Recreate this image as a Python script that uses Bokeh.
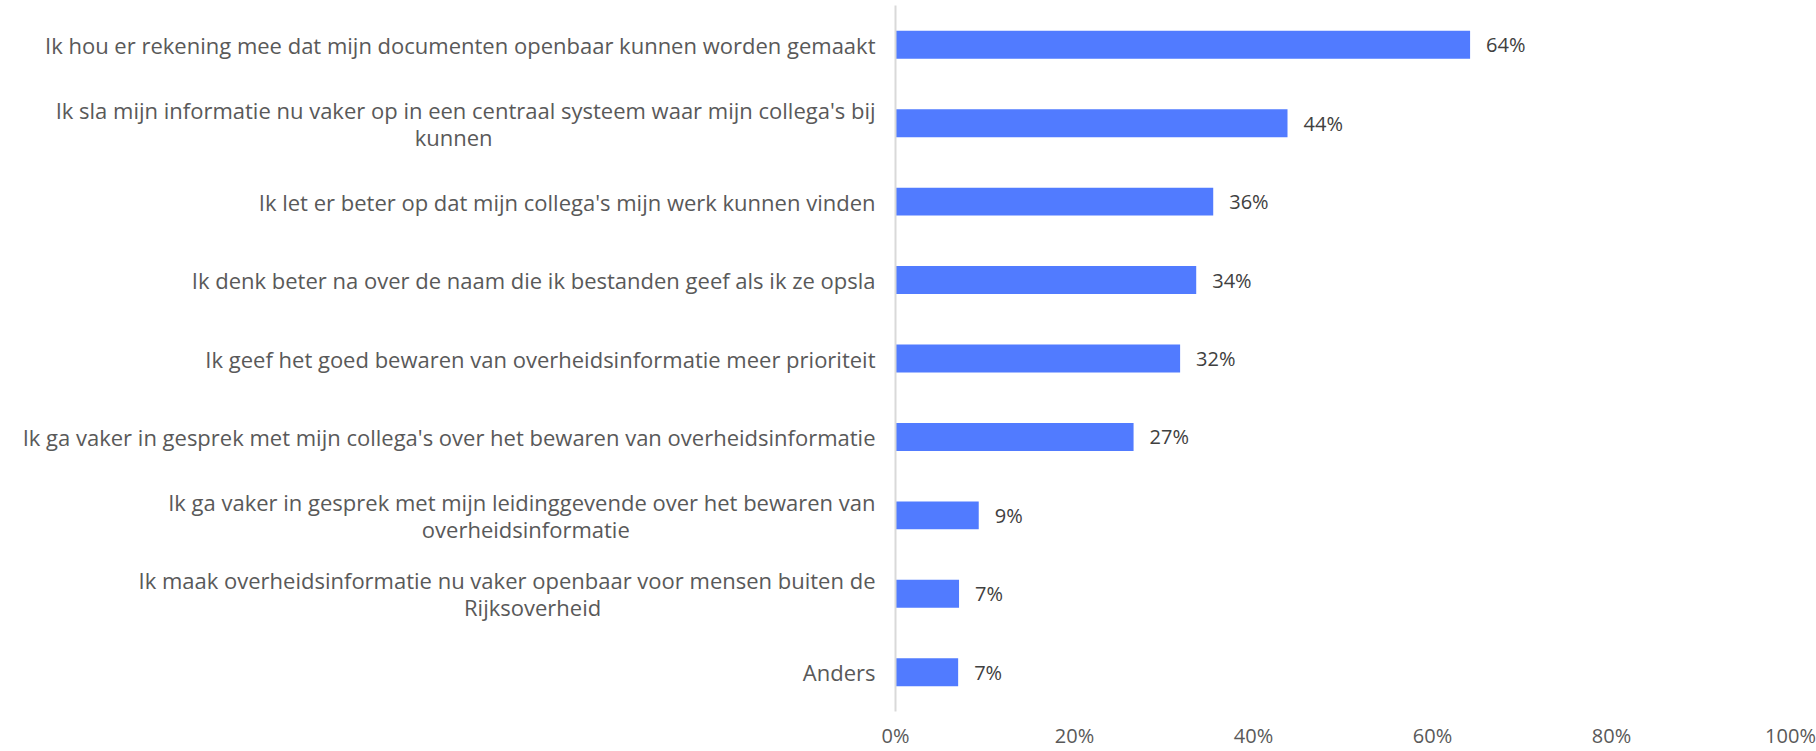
from bokeh.plotting import figure
from bokeh.models import FactorRange, Range1d, ColumnDataSource, NumeralTickFormatter, FixedTicker
from bokeh.embed import file_html
from bokeh.resources import INLINE
from bokeh.core.properties import value

categories = [
    "Ik hou er rekening mee dat mijn documenten openbaar kunnen worden gemaakt",
    "Ik sla mijn informatie nu vaker op in een centraal systeem waar mijn collega's bij\nkunnen",
    "Ik let er beter op dat mijn collega's mijn werk kunnen vinden",
    "Ik denk beter na over de naam die ik bestanden geef als ik ze opsla",
    "Ik geef het goed bewaren van overheidsinformatie meer prioriteit",
    "Ik ga vaker in gesprek met mijn collega's over het bewaren van overheidsinformatie",
    "Ik ga vaker in gesprek met mijn leidinggevende over het bewaren van\noverheidsinformatie",
    "Ik maak overheidsinformatie nu vaker openbaar voor mensen buiten de\nRijksoverheid",
    "Anders",
]
values = [0.642, 0.438, 0.355, 0.336, 0.318, 0.266, 0.093, 0.071, 0.070]
value_labels = ["64%", "44%", "36%", "34%", "32%", "27%", "9%", "7%", "7%"]
x_ticks = [0, 0.2, 0.4, 0.6, 0.8, 1.0]

FONT = "Open Sans"
GRAY = "#595959"


def center_lines(label, px_per_char=10.1, nbsp_px=5.7):
    # pad shorter lines so that, right-aligned, they appear centred under the longest one
    lines = label.split("\n")
    if len(lines) == 1:
        return label
    longest = max(len(l) for l in lines)
    out = []
    for l in lines:
        n = round((longest - len(l)) * px_per_char / 2 / nbsp_px)
        out.append(l + "\u00a0" * n)
    return "\n".join(out)


factors = [center_lines(c) for c in categories]
src = ColumnDataSource(dict(cat=factors, val=values, lab=value_labels))

p = figure(
    width=1816, height=751,
    y_range=FactorRange(factors=list(reversed(factors)), range_padding=0.0),
    x_range=Range1d(0, 1.0),
    output_backend="svg", toolbar_location=None,
    min_border_left=895, min_border_right=26, min_border_top=5, min_border_bottom=0,
)
p.outline_line_color = None
p.background_fill_color = "white"
p.border_fill_color = "white"

p.hbar(y="cat", right="val", left=0, height=0.356, source=src,
       fill_color="#517BFF", line_color=None)

p.text(x="val", y="cat", text="lab", source=src, x_offset=16,
       text_align="left", text_baseline="middle",
       text_font=value(FONT), text_font_size="20px", text_color="#404040")

p.xgrid.visible = False
p.ygrid.visible = False

xa = p.xaxis[0]
xa.ticker = FixedTicker(ticks=x_ticks)
xa.formatter = NumeralTickFormatter(format="0%")
xa.axis_line_color = None
xa.major_tick_line_color = None
xa.minor_tick_line_color = None
xa.major_tick_out = 0
xa.major_tick_in = 0
xa.major_label_standoff = 10
xa.major_label_text_font = FONT
xa.major_label_text_font_size = "20px"
xa.major_label_text_color = GRAY

ya = p.yaxis[0]
ya.axis_line_color = "#d9d9d9"
ya.axis_line_width = 2
ya.major_tick_line_color = None
ya.minor_tick_line_color = None
ya.major_tick_out = 0
ya.major_tick_in = 0
ya.major_label_standoff = 20
ya.major_label_text_font = FONT
ya.major_label_text_font_size = "22px"
ya.major_label_text_line_height = 0.9
ya.major_label_text_color = GRAY

open("out.html", "w").write(file_html(p, INLINE))
